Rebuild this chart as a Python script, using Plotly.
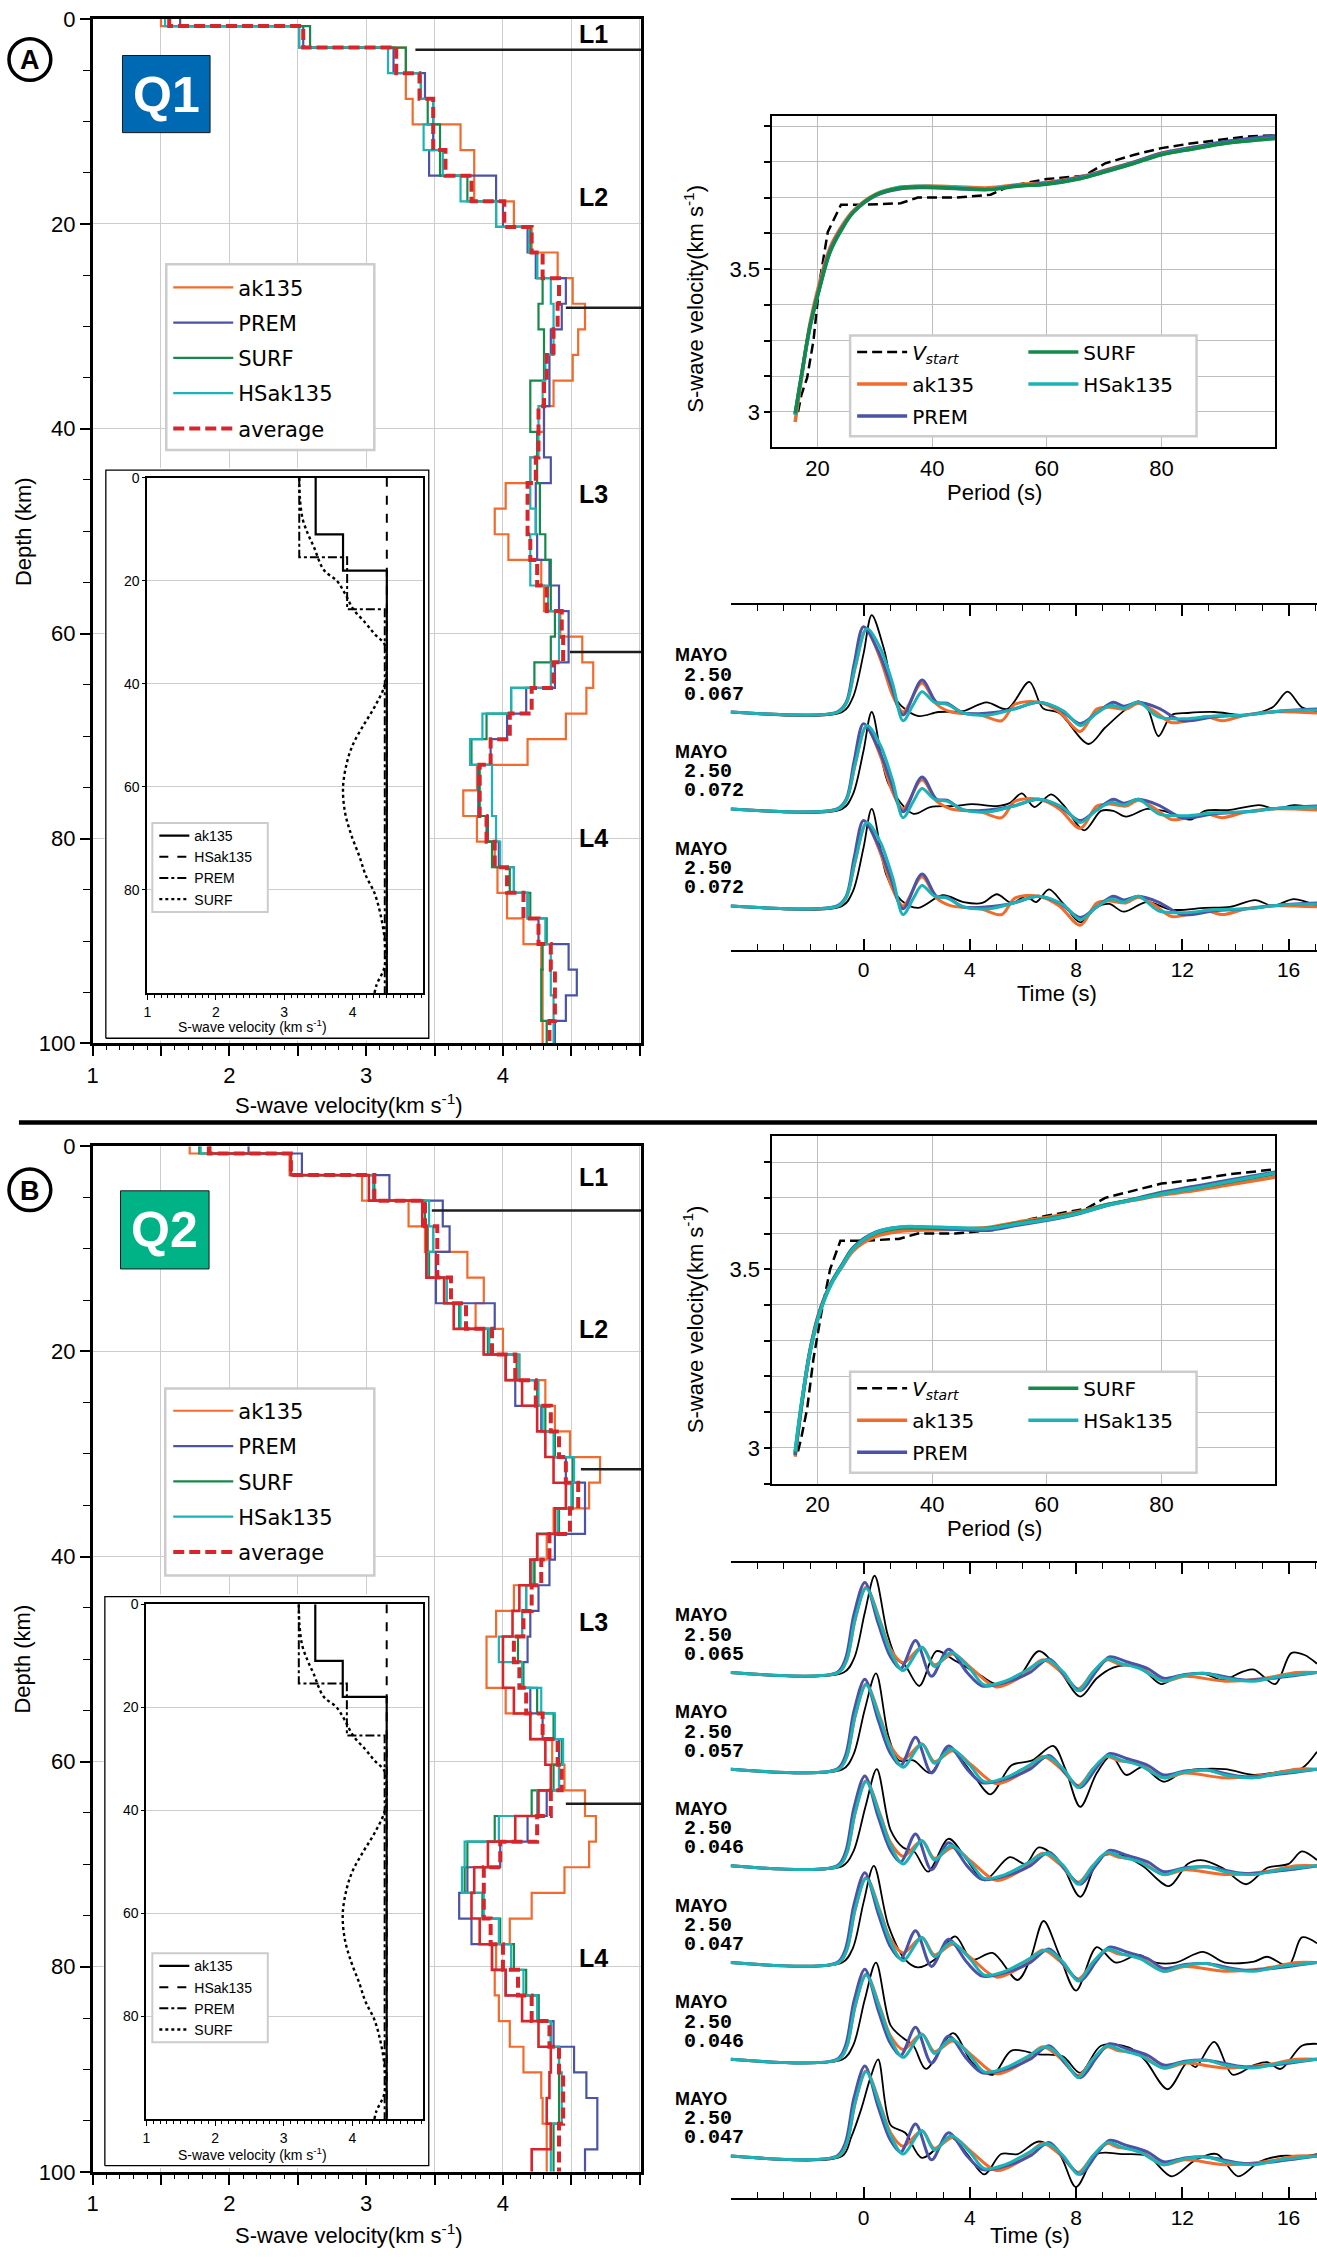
import plotly.graph_objects as go

W, H = 1317, 2262

ORANGE = '#f26a2c'
BLUE = '#4b53a6'
GREEN = '#14894a'
CYAN = '#1bb3b6'
RED = '#d6262c'
GRID = '#cdcdcd'

# layer boundaries (km) shared by all inverted models
LAYER_DEPTH = [0, 0.7, 2.8, 5.3, 7.8, 10.3, 12.8, 15.3, 17.8, 20.3, 22.8, 25.3, 27.8, 30.3,
               32.8, 35.3, 37.8, 40.3, 42.8, 45.3, 47.8, 50.3, 52.8, 55.3, 57.8, 60.3, 62.8,
               65.3, 67.8, 70.3, 72.8, 75.3, 77.8, 80.3, 82.8, 85.3, 87.8, 90.3, 92.8, 95.3,
               97.8, 100]

# Q1 : S-wave velocity per layer (km/s)
A_AK135 = [1.50, 2.51, 3.29, 3.29, 3.34, 3.69, 3.79, 3.79, 4.08, 4.21, 4.40, 4.51, 4.60, 4.55,
           4.51, 4.37, 4.30, 4.25, 4.20, 4.02, 3.94, 4.04, 4.28, 4.30, 4.42, 4.58, 4.66, 4.61,
           4.46, 4.18, 3.81, 3.71, 3.81, 3.94, 3.96, 4.03, 4.15, 4.28, 4.29, 4.29, 4.29]
A_PREM = [1.64, 2.54, 3.20, 3.43, 3.49, 3.49, 3.46, 3.95, 4.00, 4.18, 4.24, 4.46, 4.43, 4.35,
          4.34, 4.34, 4.30, 4.30, 4.35, 4.24, 4.24, 4.25, 4.34, 4.41, 4.48, 4.48, 4.38, 4.17,
          4.03, 3.91, 3.82, 3.82, 3.88, 3.97, 4.08, 4.18, 4.26, 4.48, 4.54, 4.46, 4.38]
A_SURF = [1.56, 2.59, 3.29, 3.40, 3.45, 3.54, 3.54, 3.74, 3.95, 4.20, 4.25, 4.29, 4.26, 4.30,
          4.30, 4.20, 4.20, 4.25, 4.25, 4.27, 4.27, 4.31, 4.35, 4.35, 4.38, 4.35, 4.23, 4.06,
          3.88, 3.77, 3.83, 3.83, 3.89, 3.92, 4.05, 4.20, 4.32, 4.29, 4.28, 4.28, 4.32]
A_HSAK135 = [1.53, 2.51, 3.16, 3.40, 3.49, 3.42, 3.56, 3.69, 3.95, 4.19, 4.25, 4.35, 4.37, 4.37,
             4.31, 4.29, 4.26, 4.26, 4.20, 4.20, 4.24, 4.20, 4.20, 4.33, 4.41, 4.41, 4.35, 4.06,
             3.85, 3.76, 3.92, 3.92, 3.95, 3.98, 4.08, 4.18, 4.31, 4.35, 4.35, 4.37, 4.37]
A_AVERAGE = [1.56, 2.54, 3.22, 3.39, 3.49, 3.49, 3.58, 3.77, 4.01, 4.21, 4.29, 4.41, 4.40, 4.37,
             4.32, 4.30, 4.26, 4.26, 4.24, 4.18, 4.18, 4.20, 4.25, 4.32, 4.43, 4.44, 4.37, 4.21,
             4.05, 3.91, 3.83, 3.83, 3.88, 3.94, 4.03, 4.15, 4.26, 4.35, 4.38, 4.38, 4.34]

# Q2 : S-wave velocity per layer (km/s)
B_AK135 = [1.71, 2.44, 2.97, 3.31, 3.43, 3.74, 3.86, 3.80, 4.00, 4.12, 4.31, 4.38, 4.49, 4.71,
           4.63, 4.37, 4.32, 4.23, 4.08, 3.95, 3.88, 3.88, 4.02, 4.20, 4.36, 4.45, 4.60, 4.68,
           4.63, 4.45, 4.21, 4.05, 3.95, 3.94, 3.97, 4.05, 4.15, 4.28, 4.29, 4.32, 4.32]
B_PREM = [2.14, 2.53, 3.17, 3.56, 3.61, 3.51, 3.51, 3.94, 3.86, 4.02, 4.09, 4.28, 4.38, 4.46,
          4.60, 4.60, 4.38, 4.34, 4.26, 4.20, 4.18, 4.14, 4.20, 4.29, 4.41, 4.41, 4.32, 4.18,
          3.98, 3.74, 3.68, 3.77, 3.92, 4.02, 4.26, 4.37, 4.52, 4.61, 4.69, 4.69, 4.60]
B_SURF = [1.78, 2.45, 3.06, 3.43, 3.45, 3.46, 3.57, 3.68, 3.89, 4.10, 4.25, 4.31, 4.38, 4.51,
          4.51, 4.41, 4.25, 4.23, 4.17, 4.14, 4.11, 4.15, 4.25, 4.37, 4.43, 4.37, 4.21, 3.94,
          3.74, 3.72, 3.85, 3.98, 4.08, 4.17, 4.26, 4.35, 4.41, 4.41, 4.41, 4.37, 4.37]
B_HSAK135 = [1.79, 2.45, 3.05, 3.46, 3.49, 3.45, 3.59, 3.69, 3.90, 4.12, 4.26, 4.29, 4.37, 4.52,
             4.50, 4.40, 4.25, 4.21, 4.17, 4.14, 3.97, 4.14, 4.28, 4.38, 4.44, 4.41, 4.25, 3.97,
             3.72, 3.70, 3.86, 3.97, 4.06, 4.15, 4.25, 4.35, 4.41, 4.43, 4.43, 4.35, 4.35]
B_AVERAGE = [1.85, 2.45, 3.06, 3.43, 3.52, 3.52, 3.62, 3.73, 3.92, 4.09, 4.24, 4.35, 4.41, 4.46,
             4.55, 4.49, 4.34, 4.28, 4.21, 4.15, 4.08, 4.12, 4.17, 4.29, 4.40, 4.43, 4.35, 4.25,
             3.98, 3.86, 3.86, 3.91, 4.00, 4.11, 4.21, 4.34, 4.41, 4.44, 4.44, 4.41, 4.41]
B_BEST = [1.86, 2.45, 3.02, 3.41, 3.44, 3.44, 3.57, 3.64, 3.86, 4.02, 4.14, 4.25, 4.31, 4.37,
          4.46, 4.38, 4.25, 4.20, 4.12, 4.07, 4.00, 4.00, 4.08, 4.20, 4.31, 4.35, 4.26, 4.09,
          3.89, 3.79, 3.77, 3.83, 3.92, 4.02, 4.14, 4.26, 4.35, 4.34, 4.32, 4.35, 4.21]

# layer interfaces L1..L4
LAYER_NAMES = ['L1', 'L2', 'L3', 'L4']
A_BOUND_DEPTH = [3.0, 28.2, 61.8]
A_BOUND_VEL = [3.36, 4.46, 4.49]
A_LABEL_DEPTH = [1.5, 17.4, 46.4, 79.9]
B_BOUND_DEPTH = [6.25, 31.5, 64.1]
B_BOUND_VEL = [3.48, 4.57, 4.46]
B_LABEL_DEPTH = [3.0, 17.8, 46.4, 79.1]

# reference models (inset)
INSET_AK135_V = [3.46, 3.86, 4.50]
INSET_AK135_D = [0, 11.0, 18.0, 100]
INSET_HSAK135_V = [4.50]
INSET_HSAK135_D = [0, 100]
INSET_PREM_V = [3.22, 3.92, 4.47]
INSET_PREM_D = [0, 15.4, 25.5, 100]
INSET_SURF_V = [3.22, 3.23, 3.27, 3.35, 3.43, 3.58, 3.77, 3.89, 4.01, 4.19, 4.32, 4.47, 4.50,
                4.47, 4.32, 4.16, 4.01, 3.92, 3.86, 3.89, 3.98, 4.10, 4.19, 4.32, 4.41, 4.47,
                4.47, 4.35, 4.32]
INSET_SURF_D = [0, 4, 8, 11, 13.3, 17.9, 20, 22.5, 25.5, 28.2, 30.3, 32.4, 36, 40.2, 44.5, 48,
                51.6, 55.1, 60.1, 65, 69.3, 73.5, 77.1, 80.6, 84.9, 89.9, 94.8, 98.4, 100]

# dispersion curves
PERIOD = [16.1, 17.3, 18.7, 20.2, 22.2, 24.4, 26.3, 30.2, 34.2, 38.2, 44.0, 49.8, 54.9, 60.0,
          65.8, 70.2, 75.3, 80.0, 85.5, 91.3, 99.9]
A_VSTART_PERIOD = [16.6, 17.2, 18.2, 19.3, 20.4, 21.8, 24.1, 28.0, 34.5, 37.5, 44.0, 50.2, 53.5,
                   60.0, 66.5, 70.2, 75.3, 80.0, 84.7, 89.8, 94.9, 99.9]
A_VSTART = [3.0, 3.06, 3.12, 3.25, 3.46, 3.63, 3.725, 3.725, 3.73, 3.75, 3.75, 3.76, 3.79, 3.815,
            3.826, 3.87, 3.90, 3.923, 3.938, 3.952, 3.964, 3.968]
A_DISP_AK135 = [2.965, 3.13, 3.31, 3.44, 3.575, 3.655, 3.705, 3.762, 3.785, 3.79, 3.788, 3.784,
                3.795, 3.803, 3.822, 3.846, 3.875, 3.905, 3.925, 3.944, 3.962]
A_DISP_PREM = [2.99, 3.14, 3.30, 3.425, 3.565, 3.648, 3.70, 3.758, 3.78, 3.785, 3.782, 3.779,
               3.792, 3.80, 3.82, 3.844, 3.874, 3.904, 3.925, 3.946, 3.966]
A_DISP_SURF = [2.995, 3.14, 3.30, 3.42, 3.56, 3.645, 3.70, 3.76, 3.783, 3.787, 3.783, 3.778,
               3.79, 3.797, 3.816, 3.84, 3.87, 3.90, 3.92, 3.94, 3.957]
A_DISP_HSAK135 = [2.99, 3.135, 3.298, 3.42, 3.56, 3.645, 3.70, 3.76, 3.785, 3.79, 3.785, 3.78,
                  3.791, 3.798, 3.817, 3.841, 3.871, 3.901, 3.921, 3.941, 3.958]
B_VSTART_PERIOD = [16.6, 17.2, 18.2, 19.3, 20.7, 22.2, 24.0, 28.0, 34.2, 37.5, 44.0, 50.5, 53.5,
                   57.1, 60.0, 66.9, 70.2, 75.3, 80.0, 85.5, 91.3, 99.9]
B_VSTART = [2.99, 3.03, 3.11, 3.25, 3.38, 3.50, 3.58, 3.58, 3.585, 3.60, 3.60, 3.61, 3.62, 3.64,
            3.65, 3.67, 3.70, 3.72, 3.74, 3.75, 3.765, 3.78]
B_DISP_AK135 = [2.975, 3.125, 3.275, 3.375, 3.455, 3.51, 3.553, 3.592, 3.606, 3.61, 3.612, 3.617,
                3.632, 3.645, 3.662, 3.68, 3.694, 3.708, 3.72, 3.735, 3.758]
B_DISP_PREM = [2.98, 3.13, 3.27, 3.372, 3.456, 3.516, 3.562, 3.604, 3.617, 3.616, 3.612, 3.61,
               3.624, 3.637, 3.657, 3.678, 3.697, 3.715, 3.731, 3.748, 3.772]
B_DISP_SURF = [2.985, 3.13, 3.27, 3.37, 3.454, 3.514, 3.56, 3.601, 3.615, 3.617, 3.615, 3.615,
               3.629, 3.641, 3.66, 3.68, 3.696, 3.712, 3.726, 3.743, 3.768]
B_DISP_HSAK135 = [2.99, 3.135, 3.268, 3.368, 3.452, 3.512, 3.558, 3.603, 3.618, 3.619, 3.616,
                  3.614, 3.627, 3.639, 3.658, 3.678, 3.695, 3.711, 3.726, 3.744, 3.77]

# waveforms: (time s, normalised amplitude)
A_SYN_AK135 = [(-5, 0), (-0.95, 0), (-0.63, 0.1), (-0.31, 0.46), (0.1, 0.85), (0.63, 0.55),
               (1.1, 0.17), (1.49, 0.0), (2.2, 0.3), (2.75, 0.08), (3.3, 0.0), (4.4, -0.03),
               (5.2, -0.09), (5.7, 0.08), (6.6, 0.1), (7.37, 0.0), (8.16, -0.2), (8.78, 0.03),
               (9.25, 0.05), (9.88, 0.03), (10.35, 0.09), (11.0, 0.0), (11.6, -0.11),
               (12.9, -0.05), (13.5, -0.09), (14.4, -0.03), (15.3, 0.0), (17.07, -0.01)]
A_SYN_PREM = [(-5, 0), (-1.0, 0), (-0.65, 0.1), (-0.35, 0.5), (0.0, 0.88), (0.55, 0.63),
              (1.02, 0.29), (1.49, -0.03), (2.2, 0.33), (2.75, 0.1), (3.14, 0.09), (3.76, -0.01),
              (4.7, -0.01), (5.65, 0.03), (6.59, 0.1), (7.37, 0.03), (8.16, -0.12), (8.78, -0.01),
              (9.4, 0.1), (9.8, 0.06), (10.35, 0.1), (11.1, 0.04), (12.0, -0.09), (13.2, -0.05),
              (14.4, -0.03), (15.7, 0.01), (17.07, 0.03)]
A_SYN_HSAK135 = [(-5, 0), (-0.95, 0), (-0.63, 0.1), (-0.31, 0.47), (0.13, 0.86), (0.63, 0.66),
                 (1.1, 0.29), (1.49, -0.09), (1.88, 0.08), (2.2, 0.21), (2.67, 0.1), (3.14, 0.08),
                 (3.76, -0.01), (4.7, -0.03), (5.65, 0.03), (6.59, 0.1), (7.53, 0.01),
                 (8.16, -0.14), (8.78, -0.01), (9.33, 0.07), (9.8, 0.04), (10.35, 0.1),
                 (11.1, -0.05), (12.1, -0.07), (13.2, -0.04), (14.4, -0.03), (15.7, 0.01),
                 (17.07, 0.02)]
A_OBS = [
    [(-5, 0), (-0.8, 0), (-0.4, 0.15), (0.0, 0.6), (0.31, 1.0), (0.78, 0.64), (1.25, 0.12),
     (2.04, -0.04), (2.82, 0.0), (3.76, 0.01), (4.63, 0.1), (5.41, 0.03), (6.24, 0.31),
     (6.75, 0.04), (7.37, -0.01), (8.47, -0.33), (9.1, -0.16), (9.88, 0.03), (10.35, 0.11),
     (10.7, 0.03), (11.1, -0.25), (11.6, -0.03), (12.2, -0.01), (13.2, 0.0), (14.4, -0.03),
     (15.4, 0.05), (15.96, 0.21), (16.5, 0.05), (17.07, 0.01)],
    [(-5, 0), (-0.8, 0), (-0.4, 0.15), (0.0, 0.6), (0.31, 1.0), (0.94, 0.26), (1.88, -0.05),
     (2.51, 0.02), (3.45, 0.03), (4.08, 0.05), (5.02, 0.03), (5.5, 0.06), (5.96, 0.16),
     (6.43, 0.02), (7.06, 0.15), (7.53, 0.04), (8.31, -0.22), (8.94, -0.02), (9.4, -0.02),
     (9.88, -0.08), (10.67, 0.0), (11.3, -0.02), (12.3, -0.11), (12.86, -0.02), (13.8, -0.01),
     (14.9, 0.04), (15.5, 0.0), (16.2, 0.04), (17.07, 0.01)],
    [(-5, 0), (-0.8, 0), (-0.4, 0.15), (0.0, 0.6), (0.31, 1.0), (0.86, 0.32), (1.41, 0.06),
     (2.04, -0.02), (2.98, 0.11), (3.76, 0.04), (4.47, 0.03), (5.02, 0.12), (5.57, 0.03),
     (6.12, 0.1), (6.5, 0.04), (6.98, 0.17), (7.53, 0.02), (8.16, -0.17), (8.78, -0.01),
     (9.25, 0.02), (9.8, -0.06), (10.67, 0.04), (11.6, -0.04), (12.86, -0.02), (13.8, -0.01),
     (14.75, 0.06), (15.4, 0.0), (16.2, 0.07), (17.07, 0.0)],
]
A_WEIGHTS = ['0.067', '0.072', '0.072']

B_SYN_AK135 = [(-5, 0), (-0.94, 0), (-0.63, 0.13), (-0.31, 0.55), (0.1, 0.88), (0.63, 0.53),
               (1.02, 0.24), (1.49, 0.1), (2.2, 0.26), (2.67, 0.08), (3.37, 0.19), (4.08, 0.04),
               (5.0, -0.15), (5.96, -0.04), (6.74, 0.13), (7.37, 0.02), (8.08, -0.17),
               (8.63, 0.0), (9.18, 0.13), (9.57, 0.09), (10.35, 0.06), (11.3, -0.09),
               (12.1, -0.04), (13.6, -0.09), (15.1, -0.06), (16.3, 0.0), (17.07, 0.0)]
B_SYN_PREM = [(-5, 0), (-1.0, 0), (-0.68, 0.14), (-0.36, 0.6), (0.05, 0.93), (0.55, 0.51),
              (1.0, 0.17), (1.4, 0.04), (1.96, 0.33), (2.56, -0.04), (3.2, 0.24), (3.9, 0.0),
              (4.47, -0.14), (5.5, -0.09), (6.27, 0.0), (6.98, 0.14), (7.6, -0.04), (8.16, -0.19),
              (8.78, 0.02), (9.25, 0.16), (9.9, 0.11), (10.7, 0.04), (11.3, -0.06), (12.1, -0.02),
              (12.9, -0.01), (14.4, -0.08), (16.0, -0.04), (17.07, 0.0)]
B_SYN_HSAK135 = [(-5, 0), (-0.94, 0), (-0.63, 0.13), (-0.31, 0.56), (0.1, 0.87), (0.63, 0.51),
                 (1.02, 0.21), (1.49, 0.02), (2.2, 0.26), (2.67, 0.06), (3.3, 0.21), (4.0, 0.04),
                 (4.55, -0.13), (5.33, -0.09), (6.12, 0.02), (6.9, 0.13), (7.53, 0.0),
                 (8.08, -0.19), (8.63, 0.0), (9.18, 0.14), (9.73, 0.09), (10.4, 0.04),
                 (11.3, -0.09), (11.9, -0.04), (12.9, -0.01), (13.6, -0.06), (14.7, -0.09),
                 (15.7, -0.04), (17.07, 0.0)]
B_OBS = [
    [(-5, 0), (-0.75, 0), (-0.35, 0.15), (0.05, 0.62), (0.42, 1.0), (0.9, 0.4), (1.25, 0.14),
     (1.57, 0.07), (2.1, -0.14), (2.75, 0.22), (3.45, 0.12), (4.4, -0.03), (5.0, -0.12),
     (5.8, -0.06), (6.6, 0.22), (7.4, 0.01), (8.16, -0.25), (8.78, -0.06), (9.4, 0.05),
     (10.0, 0.07), (10.6, 0.01), (11.2, -0.12), (11.9, -0.03), (12.9, -0.02), (13.5, -0.08),
     (14.3, 0.01), (14.7, 0.03), (15.5, -0.12), (16.1, 0.2), (16.6, 0.18), (17.07, 0.09)],
    [(-5, 0), (-0.78, 0), (-0.38, 0.15), (0.05, 0.62), (0.47, 0.99), (0.94, 0.34), (1.33, 0.09),
     (1.88, 0.09), (2.51, -0.04), (3.22, 0.21), (4.08, -0.04), (4.78, -0.26), (5.57, 0.04),
     (6.35, 0.09), (7.14, 0.24), (7.6, 0.0), (8.16, -0.39), (8.78, -0.04), (9.33, 0.14),
     (9.88, -0.06), (10.5, 0.02), (11.3, -0.13), (12.1, -0.02), (13.6, 0.0), (14.7, -0.06),
     (15.8, -0.02), (16.5, 0.01), (17.07, 0.18)],
    [(-5, 0), (-0.78, 0), (-0.38, 0.15), (0.08, 0.62), (0.5, 1.0), (1.02, 0.37), (1.49, 0.19),
     (1.9, 0.15), (2.43, -0.06), (3.2, 0.28), (3.9, 0.06), (4.55, -0.15), (5.5, 0.09),
     (6.1, 0.02), (6.6, 0.19), (7.4, 0.04), (8.16, -0.32), (8.9, 0.09), (9.7, 0.11),
     (10.5, 0.0), (11.5, -0.21), (12.2, 0.02), (12.7, 0.06), (13.5, -0.02), (14.4, -0.19),
     (15.2, -0.02), (16.0, 0.02), (16.5, 0.15), (17.07, 0.06)],
    [(-5, 0), (-0.8, 0), (-0.4, 0.15), (0.0, 0.62), (0.39, 1.0), (0.94, 0.38), (1.57, 0.03),
     (2.04, -0.05), (2.67, 0.03), (3.45, 0.27), (4.08, 0.03), (4.86, 0.1), (5.8, -0.18),
     (6.27, 0.03), (6.78, 0.43), (7.37, 0.08), (8.0, -0.29), (8.78, 0.16), (9.49, 0.0),
     (10.35, 0.08), (11.0, 0.0), (11.76, 0.0), (12.78, 0.11), (13.6, 0.0), (14.7, 0.01),
     (15.2, 0.06), (16.0, -0.03), (16.5, 0.26), (17.07, 0.2)],
    [(-5, 0), (-0.78, 0), (-0.38, 0.15), (0.05, 0.62), (0.47, 1.0), (1.02, 0.35), (1.49, 0.22),
     (1.88, 0.14), (2.35, -0.1), (3.37, 0.27), (4.08, -0.03), (4.86, -0.16), (5.57, 0.09),
     (6.59, 0.05), (7.5, 0.03), (8.16, -0.14), (8.94, 0.14), (10.0, 0.12), (10.6, -0.01),
     (11.45, -0.31), (12.2, -0.03), (12.5, -0.08), (13.2, 0.18), (13.9, -0.16), (14.7, -0.06),
     (15.2, -0.03), (15.7, -0.1), (16.5, 0.14), (17.07, 0.16)],
    [(-5, 0), (-0.8, 0), (-0.47, 0.19), (-0.08, 0.49), (0.25, 0.8), (0.55, 1.0), (1.02, 0.32),
     (1.57, 0.24), (2.2, -0.02), (3.3, 0.19), (3.9, 0.02), (4.55, -0.19), (5.18, 0.02),
     (5.8, 0.02), (6.6, 0.15), (7.37, 0.02), (8.0, -0.32), (8.78, 0.02), (9.73, 0.02),
     (10.7, 0.0), (11.6, -0.21), (12.5, -0.04), (13.3, 0.02), (14.1, -0.21), (14.9, -0.06),
     (15.7, 0.0), (16.6, 0.0), (17.07, 0.02)],
]
B_WEIGHTS = ['0.065', '0.057', '0.046', '0.047', '0.046', '0.047']


def px(x):
    return x / W


def py(y):
    return 1 - y / H


def dom_x(a, b):
    return [a / W, b / W]


def dom_y(top, bottom):
    return [1 - bottom / H, 1 - top / H]


def ids(n):
    return ('x', 'y') if n == 1 else ('x%d' % n, 'y%d' % n)


fig = go.Figure()
annotations = []
shapes = []


def note(x, y, text, size, angle=0, color='black', family=None, **kw):
    font = dict(size=size, color=color)
    if family:
        font['family'] = family
    d = dict(xref='paper', yref='paper', x=px(x), y=py(y), text=text, textangle=angle,
             showarrow=False, xanchor='center', yanchor='middle', font=font)
    d.update(kw)
    annotations.append(d)


def add_profiles(n, models, bound_d, bound_v, label_d, legend):
    xa, ya = ids(n)
    for name, vels, color, width, dash, show in models:
        fig.add_trace(go.Scatter(
            x=vels + vels[-1:], y=LAYER_DEPTH, mode='lines', line_shape='vh',
            line=dict(color=color, width=width, dash=dash), name=name,
            legend=legend, legendgroup=legend + name, showlegend=show,
            xaxis=xa, yaxis=ya, hoverinfo='skip'))
    for d, v in zip(bound_d, bound_v):
        fig.add_trace(go.Scatter(
            x=[v, 5.01], y=[d, d], mode='lines', line=dict(color='#1e1e1e', width=2.5),
            showlegend=False, xaxis=xa, yaxis=ya, hoverinfo='skip'))
    for name, d in zip(LAYER_NAMES, label_d):
        annotations.append(dict(xref=xa, yref=ya, x=4.66, y=d, text='<b>%s</b>' % name,
                                xanchor='center', yanchor='middle', showarrow=False,
                                font=dict(size=25, color='black')))


def add_box(n):
    xa, ya = ids(n)
    fig.add_trace(go.Scatter(
        x=[0, 1, 1, 0, 0], y=[0, 0, 1, 1, 0], fill='toself', fillcolor='white', mode='lines',
        line=dict(color='black', width=1.3), showlegend=False, xaxis=xa, yaxis=ya,
        hoverinfo='skip'))


def add_inset(n, legend):
    xa, ya = ids(n)
    steps = [('ak135', INSET_AK135_V, INSET_AK135_D, 'solid', 2.2),
             ('HSak135', INSET_HSAK135_V, INSET_HSAK135_D, 'dash', 2.0),
             ('PREM', INSET_PREM_V, INSET_PREM_D, 'dashdot', 2.0)]
    for name, v, d, dash, w in steps:
        fig.add_trace(go.Scatter(
            x=v + v[-1:], y=d, mode='lines', line_shape='vh',
            line=dict(color='black', width=w, dash=dash), name=name, legend=legend,
            legendgroup=legend + name, xaxis=xa, yaxis=ya, hoverinfo='skip'))
    fig.add_trace(go.Scatter(
        x=INSET_SURF_V, y=INSET_SURF_D, mode='lines', line_shape='spline',
        line=dict(color='black', width=2.4, dash='dot'), name='SURF', legend=legend,
        legendgroup=legend + 'SURF', xaxis=xa, yaxis=ya, hoverinfo='skip'))


def add_disp(n, vst_p, vst, curves, leg1):
    xa, ya = ids(n)
    fig.add_trace(go.Scatter(
        x=vst_p, y=vst, mode='lines', line=dict(color='black', width=2.5, dash='10px,5px'),
        name='<i>V</i><sub><i>start</i></sub>', legend=leg1, legendgroup=leg1 + 'v',
        legendrank=1, xaxis=xa, yaxis=ya, hoverinfo='skip'))
    for name, vals, color, leg, rank in curves:
        fig.add_trace(go.Scatter(
            x=PERIOD, y=vals, mode='lines', line=dict(color=color, width=3.5, shape='spline'),
            name=name, legend=leg, legendgroup=leg + name, legendrank=rank,
            xaxis=xa, yaxis=ya, hoverinfo='skip'))


def add_waves(n, obs_rows, syn, weights, label_x):
    xa, ya = ids(n)
    for k, obs in enumerate(obs_rows):
        for pts, color, width in [(obs, 'black', 1.8), (syn[0], ORANGE, 3),
                                  (syn[1], BLUE, 3), (syn[2], CYAN, 3)]:
            fig.add_trace(go.Scatter(
                x=[p[0] for p in pts], y=[p[1] - k for p in pts], mode='lines',
                line=dict(color=color, width=width, shape='spline', smoothing=0.9),
                showlegend=False, xaxis=xa, yaxis=ya, hoverinfo='skip'))
        annotations.append(dict(xref='paper', yref=ya, x=px(label_x), y=-k, yshift=57,
                                xanchor='left', yanchor='middle', text='<b>MAYO</b>',
                                showarrow=False,
                                font=dict(size=18, family='Liberation Sans', color='black')))
        for text, shift in [('2.50', 37), (weights[k], 18)]:
            annotations.append(dict(xref='paper', yref=ya, x=px(label_x + 9), y=-k,
                                    yshift=shift, xanchor='left', yanchor='middle',
                                    text='<b>%s</b>' % text, showarrow=False,
                                    font=dict(size=20, family='Liberation Mono', color='black')))


# ---------------- panel A ----------------
add_profiles(1, [('ak135', A_AK135, ORANGE, 2.2, 'solid', True),
                 ('PREM', A_PREM, BLUE, 2.2, 'solid', True),
                 ('SURF', A_SURF, GREEN, 2.2, 'solid', True),
                 ('HSak135', A_HSAK135, CYAN, 2.2, 'solid', True),
                 ('average', A_AVERAGE, RED, 4, '11px,5px', True)],
             A_BOUND_DEPTH, A_BOUND_VEL, A_LABEL_DEPTH, 'legend')
add_box(2)
add_inset(3, 'legend2')
# ---------------- panel B ----------------
add_profiles(4, [('ak135', B_AK135, ORANGE, 2.2, 'solid', True),
                 ('PREM', B_PREM, BLUE, 2.2, 'solid', True),
                 ('SURF', B_SURF, GREEN, 2.2, 'solid', True),
                 ('HSak135', B_HSAK135, CYAN, 2.2, 'solid', True),
                 ('best', B_BEST, RED, 2.6, 'solid', False),
                 ('average', B_AVERAGE, RED, 4, '11px,5px', True)],
             B_BOUND_DEPTH, B_BOUND_VEL, B_LABEL_DEPTH, 'legend5')
add_box(5)
add_inset(6, 'legend6')

add_disp(7, A_VSTART_PERIOD, A_VSTART,
         [('ak135', A_DISP_AK135, ORANGE, 'legend3', 2),
          ('PREM', A_DISP_PREM, BLUE, 'legend3', 3),
          ('HSak135', A_DISP_HSAK135, CYAN, 'legend4', 2),
          ('SURF', A_DISP_SURF, GREEN, 'legend4', 1)], 'legend3')
add_waves(8, A_OBS, [A_SYN_AK135, A_SYN_PREM, A_SYN_HSAK135], A_WEIGHTS, 670)
add_disp(9, B_VSTART_PERIOD, B_VSTART,
         [('ak135', B_DISP_AK135, ORANGE, 'legend7', 2),
          ('PREM', B_DISP_PREM, BLUE, 'legend7', 3),
          ('SURF', B_DISP_SURF, GREEN, 'legend8', 1),
          ('HSak135', B_DISP_HSAK135, CYAN, 'legend8', 2)], 'legend7')
add_waves(10, B_OBS, [B_SYN_AK135, B_SYN_PREM, B_SYN_HSAK135], B_WEIGHTS, 670)

# empty traces that carry the fine 0.1 km/s tick axes of the two depth panels
fig.add_trace(go.Scatter(x=[], y=[], xaxis='x11', yaxis='y', showlegend=False))
fig.add_trace(go.Scatter(x=[], y=[], xaxis='x12', yaxis='y4', showlegend=False))

# ---------------- axes ----------------
axes = {}
frame = dict(showline=True, linecolor='black', mirror=True, zeroline=False)


def put(n, xd, yd):
    xa, ya = ids(n)
    axes['xaxis' if n == 1 else 'xaxis%d' % n] = dict(anchor=ya, **xd)
    axes['yaxis' if n == 1 else 'yaxis%d' % n] = dict(anchor=xa, **yd)


def profile_axes(n, fine, top, bottom):
    xa, ya = ids(n)
    put(n,
        dict(domain=dom_x(87, 638), range=[1, 5.01], tickvals=[1, 2, 3, 4],
             ticks='outside', ticklen=10, tickwidth=1.5, tickcolor='black',
             minor=dict(dtick=0.5, tick0=1, ticks='outside', ticklen=10, tickwidth=1.5,
                        tickcolor='black', showgrid=True, gridcolor=GRID, gridwidth=1),
             showgrid=True, gridcolor=GRID, gridwidth=1, linewidth=2.5,
             tickfont=dict(size=22), **frame),
        dict(domain=dom_y(top, bottom), range=[100, 0], tickvals=[0, 20, 40, 60, 80, 100],
             ticks='outside', ticklen=10, tickwidth=1.5, tickcolor='black',
             minor=dict(dtick=5, tick0=0, ticks='outside', ticklen=7, tickwidth=1.2,
                        tickcolor='black', showgrid=False),
             showgrid=True, gridcolor=GRID, gridwidth=1, linewidth=2.5,
             tickfont=dict(size=22), **frame))
    axes['xaxis%d' % fine] = dict(overlaying=xa, anchor=ya, range=[1, 5.01], dtick=0.1, tick0=1,
                                  ticks='outside', ticklen=6, tickwidth=1.2, tickcolor='black',
                                  showticklabels=False, showgrid=False, showline=False,
                                  zeroline=False)


def box_axes(n, left, right, top, bottom):
    hidden = dict(visible=False, range=[-0.004, 1.004], fixedrange=True)
    put(n, dict(domain=dom_x(left, right), **hidden), dict(domain=dom_y(top, bottom), **hidden))


def inset_axes(n, left, right, top, bottom):
    put(n,
        dict(domain=dom_x(left, right), range=[1, 5.03], tickvals=[1, 2, 3, 4],
             ticks='outside', ticklen=5, tickwidth=1, tickcolor='black',
             minor=dict(dtick=0.1, tick0=1, ticks='outside', ticklen=3, tickwidth=1,
                        tickcolor='black'),
             showgrid=False, linewidth=2, tickfont=dict(size=14), **frame),
        dict(domain=dom_y(top, bottom), range=[100, 0], tickvals=[0, 20, 40, 60, 80],
             ticks='outside', ticklen=3, tickcolor='black', showgrid=True, gridcolor=GRID,
             linewidth=2, tickfont=dict(size=14), **frame))


def disp_axes(n, top, bottom, yrange, ystep):
    put(n,
        dict(domain=dom_x(770, 1275), range=[12.15, 99.85], tickvals=[20, 40, 60, 80],
             ticks='', showgrid=True, gridcolor='#bdbdbd', gridwidth=1.2, linewidth=2.2,
             tickfont=dict(size=22), **frame),
        dict(domain=dom_y(top, bottom), range=yrange, tickvals=[3, 3.5], ticktext=['3', '3.5'],
             ticks='outside', ticklen=6, tickwidth=1.5, tickcolor='black', showgrid=True,
             gridcolor='#bdbdbd', gridwidth=1.2,
             minor=dict(dtick=ystep, tick0=3, ticks='outside', ticklen=6, tickwidth=1.5,
                        tickcolor='black', showgrid=True, gridcolor='#bdbdbd', gridwidth=1.2),
             linewidth=2.2, tickfont=dict(size=22), **frame))


def wave_axes(n, top, bottom, yrange):
    put(n,
        dict(domain=dom_x(728, 1317), range=[-5, 17.07], tickvals=[0, 4, 8, 12, 16],
             ticks='inside', ticklen=11, tickwidth=1.6, tickcolor='black',
             minor=dict(dtick=1, tick0=0, ticks='inside', ticklen=6, tickwidth=1.4,
                        tickcolor='black'),
             showline=True, linecolor='black', linewidth=2, mirror='ticks', zeroline=False,
             showgrid=False, tickfont=dict(size=21)),
        dict(domain=dom_y(top, bottom), range=yrange, visible=False))


profile_axes(1, 11, 7, 1043)
box_axes(2, 99, 426, 461, 1040)
inset_axes(3, 142, 419, 471, 992)
profile_axes(4, 12, 1147, 2184)
box_axes(5, 98, 426, 1600, 2180)
inset_axes(6, 141, 419, 1610, 2131)
disp_axes(7, 105, 440, [2.877, 4.036], 0.125)
wave_axes(8, 600, 948, [-2.45, 1.10])
disp_axes(9, 1137, 1488, [2.90, 3.872], 0.1)
wave_axes(10, 1568, 2210, [-5.43, 1.135])


# ---------------- legends ----------------
def leg(x, top, size, family, gap, itemwidth):
    return dict(x=px(x), y=py(top), xanchor='left', yanchor='top', bgcolor='rgba(0,0,0,0)',
                borderwidth=0, font=dict(size=size, family=family, color='black'),
                tracegroupgap=gap, traceorder='grouped', itemwidth=itemwidth)


legends = dict(
    legend=leg(163, 258, 21, 'DejaVu Sans', 5, 60),
    legend2=leg(149, 817, 14, 'Liberation Sans', 0, 30),
    legend3=leg(850, 324, 20, 'DejaVu Sans', 3, 50),
    legend4=leg(1022, 324, 20, 'DejaVu Sans', 3, 50),
    legend5=leg(163, 1394, 21, 'DejaVu Sans', 5, 60),
    legend6=leg(149, 1960, 14, 'Liberation Sans', 0, 30),
    legend7=leg(850, 1372, 20, 'DejaVu Sans', 3, 50),
    legend8=leg(1022, 1372, 20, 'DejaVu Sans', 3, 50),
)


def rect(x0, y0, x1, y1, line, fill, width=2.5, layer='above'):
    shapes.append(dict(type='rect', xref='paper', yref='paper', x0=px(x0), x1=px(x1),
                       y0=py(y1), y1=py(y0), line=dict(color=line, width=width),
                       fillcolor=fill, layer=layer))


# legend frames
rect(161, 255, 370, 443, '#cccccc', 'white')
rect(160, 1392, 370, 1581, '#cccccc', 'white')
rect(147, 820, 263, 910, '#cccccc', 'white', 2)
rect(147, 1963, 263, 2053, '#cccccc', 'white', 2)
rect(848, 327, 1196, 429, '#cccccc', 'white')
rect(848, 1375, 1196, 1477, '#cccccc', 'white')

# Q badges
rect(117, 44, 205, 122, '#1a1a1a', '#0069b4', 1)
rect(115, 1192, 204, 1271, '#1a1a1a', '#00b386', 1)
note(161, 84, '<b>Q1</b>', 50, color='white', family='Liberation Sans')
note(159.5, 1232, '<b>Q2</b>', 50, color='white', family='Liberation Sans')

# panel letters
for letter, cy in [('A', 48), ('B', 1191)]:
    shapes.append(dict(type='circle', xref='paper', yref='paper', x0=px(3), x1=px(45),
                       y0=py(cy + 21), y1=py(cy - 21), line=dict(color='black', width=3.5)))
    note(24, cy + 1, '<b>%s</b>' % letter, 27)

# separator between panels
shapes.append(dict(type='line', xref='paper', yref='paper', x0=px(13), x1=1, y0=py(1123),
                   y1=py(1123), line=dict(color='black', width=4.5)))

# axis titles
VEL = 'S-wave velocity(km s<sup>-1</sup>)'
INSET_VEL = 'S-wave velocity (km s<sup>-1</sup>)'
note(17, 525, 'Depth (km)', 22, angle=-90)
note(345, 1104, VEL, 22)
note(17, 1665, 'Depth (km)', 22, angle=-90)
note(345, 2247, VEL, 22)
note(248, 1025, INSET_VEL, 14)
note(248, 2166, INSET_VEL, 14)
note(691, 290, VEL, 22, angle=-90)
note(993, 486, 'Period (s)', 22)
note(691, 1322, VEL, 22, angle=-90)
note(993, 1533, 'Period (s)', 22)
note(1056, 992, 'Time (s)', 22)
note(1029, 2248, 'Time (s)', 22)

fig.update_layout(
    width=W, height=H, margin=dict(l=0, r=0, t=0, b=0),
    paper_bgcolor='white', plot_bgcolor='white',
    font=dict(family='Liberation Sans', color='black'),
    annotations=annotations, shapes=shapes, **axes, **legends)

fig.write_html("out.html", config={'displayModeBar': False},
               post_script="document.body.style.margin='0px';"
                           "document.documentElement.style.overflow='hidden';")
